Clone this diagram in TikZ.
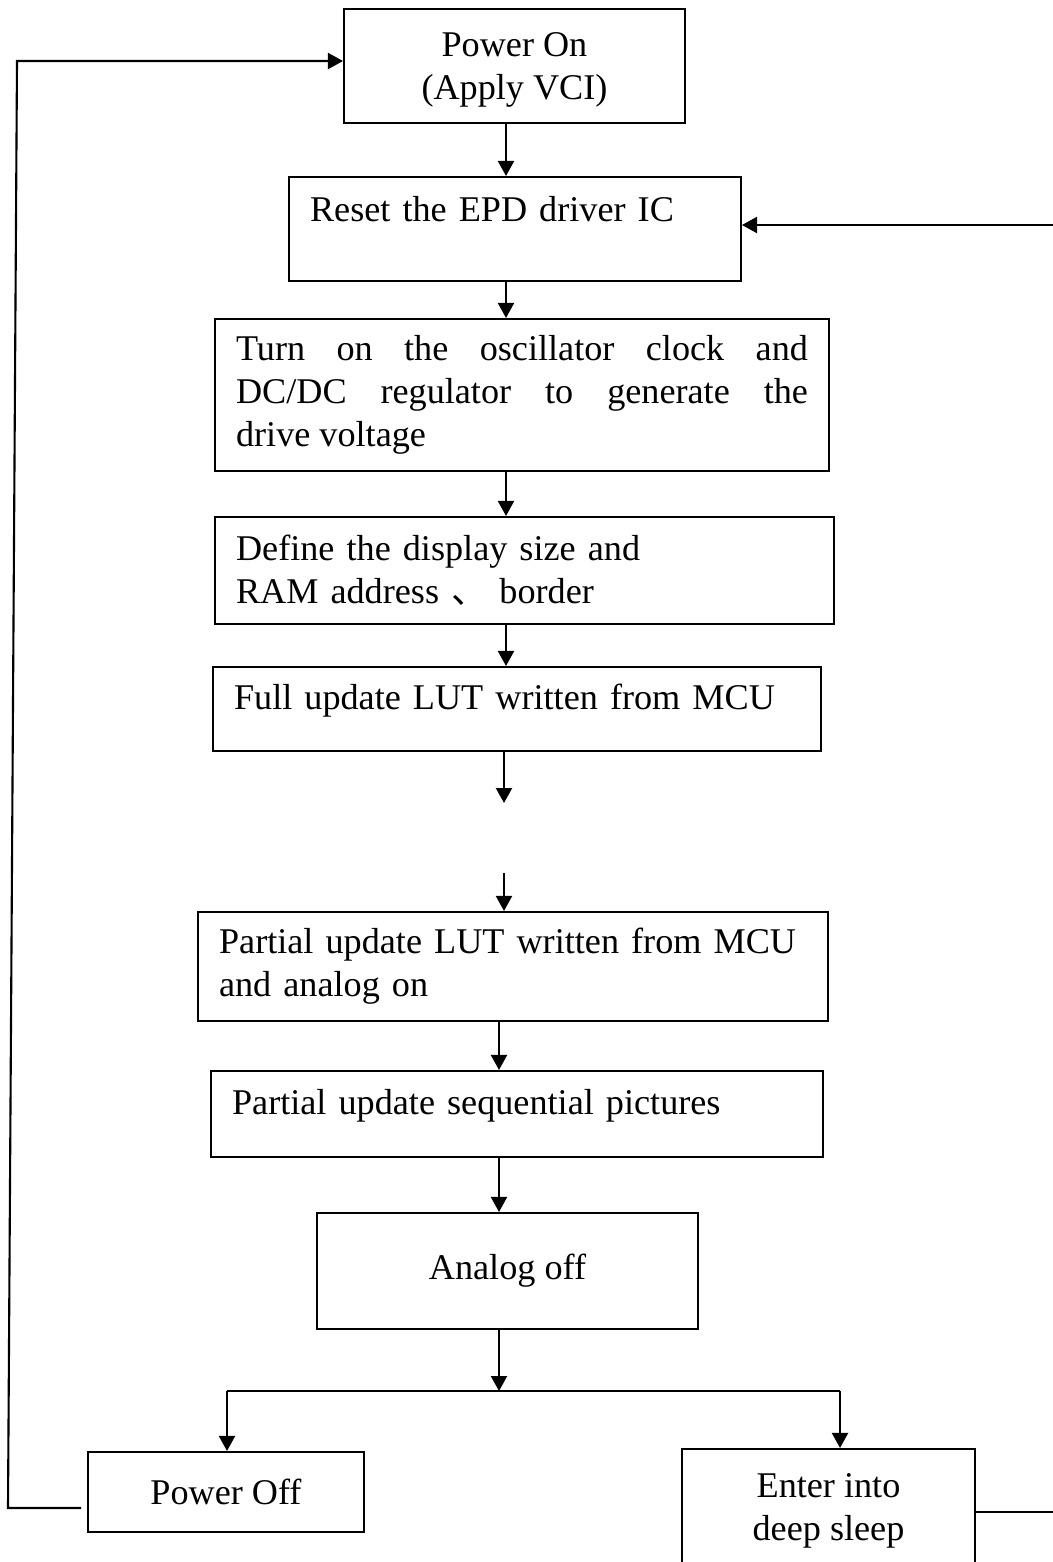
\documentclass[tikz,border=0pt]{standalone}
\usepackage{fontspec}
\setmainfont{Liberation Serif}
\newfontfamily\cjk{Noto Sans CJK SC}
\usetikzlibrary{positioning, arrows.meta}

\begin{document}
\begin{tikzpicture}[
	x=0.02cm, y=-0.02cm,
	block/.style={rectangle, draw, line width=1.2pt, inner xsep=0.42cm, inner ysep=0pt, font=\fontsize{20.6}{24.4}\selectfont},
	midblock/.style={block, align=center},
	leftblock/.style={block, align=left, text width=#1},
	topblock/.style={block, align=left, text width=#1, text height=0.5cm, text depth=0.48cm},
	flow/.style={line width=1.2pt},
	>={Triangle[length=3mm, width=3.2mm]}
]
\useasboundingbox (0,0) rectangle (1053,1562);

\node[midblock, minimum width=6.82cm, minimum height=2.28cm, text depth=0pt] (power) at (514.5,66) {Power On\\(Apply VCI)};
\node[topblock=8.2cm, minimum height=2.08cm, text depth=0.8cm] (reset) at (515,229) {Reset the EPD driver IC};
\node[block, align=justify, text width=11.44cm, minimum height=3.04cm] (turn) at (522,395) {Turn on the oscillator clock and\linebreak DC/DC regulator to generate the\linebreak drive voltage};
\node[leftblock=11.54cm, minimum height=2.14cm] (define) at (524.5,570.5) {Define the display size and\\RAM address {\cjk 、} border};
\node[topblock=11.32cm, minimum height=1.68cm] (full) at (517,709) {Full update LUT written from MCU};
\node[leftblock=11.76cm, minimum height=2.18cm] (plut) at (513,966.5) {Partial update LUT written from MCU\\and analog on};
\node[topblock=11.4cm, minimum height=1.72cm] (seq) at (517,1114) {Partial update sequential pictures};
\node[midblock, minimum width=7.62cm, minimum height=2.32cm] (aoff) at (507.5,1271) {Analog off};
\node[midblock, minimum width=5.52cm, minimum height=1.6cm] (poff) at (226,1492) {Power Off};
\node[midblock, minimum width=5.86cm, minimum height=2.48cm] (sleep) at (828.5,1511) {Enter into\\deep sleep};

\coordinate (spine) at (506,0);
\coordinate (spineb) at (499,0);
\coordinate (gapa) at (504,803);
\coordinate (gapb) at (504,873);
\coordinate (split) at (499,1391);
\coordinate (brl) at (227,1391);
\coordinate (brr) at (840,1391);
\coordinate (offout) at (81,1508);
\coordinate (lowcorner) at (8,1508);
\coordinate (upcorner) at (17,61);
\coordinate (backin) at (1053,225);
\coordinate (sleepout) at (1053,1512);

\foreach \i/\j in {power/reset, reset/turn, turn/define, define/full}
	\draw[flow, ->] (\i.south -| spine) -- (\j.north -| spine);

\foreach \i/\j in {plut/seq, seq/aoff}
	\draw[flow, ->] (\i.south -| spineb) -- (\j.north -| spineb);

\draw[flow, ->] (full.south -| gapa) -- (gapa);
\draw[flow, ->] (gapb) -- (gapb |- plut.north);

\draw[flow, ->] (aoff.south -| split) -- (split);
\draw[flow] (brl) -- (brr);
\foreach \i/\j in {brl/poff, brr/sleep}
	\draw[flow, ->] (\i) -- (\i |- \j.north);

\draw[flow, ->] (offout) -- (lowcorner) -- (upcorner) -- (upcorner -| power.west);
\draw[flow, ->] (backin) -- (backin -| reset.east);
\draw[flow] (sleep.east |- sleepout) -- (sleepout);

\end{tikzpicture}
\end{document}
